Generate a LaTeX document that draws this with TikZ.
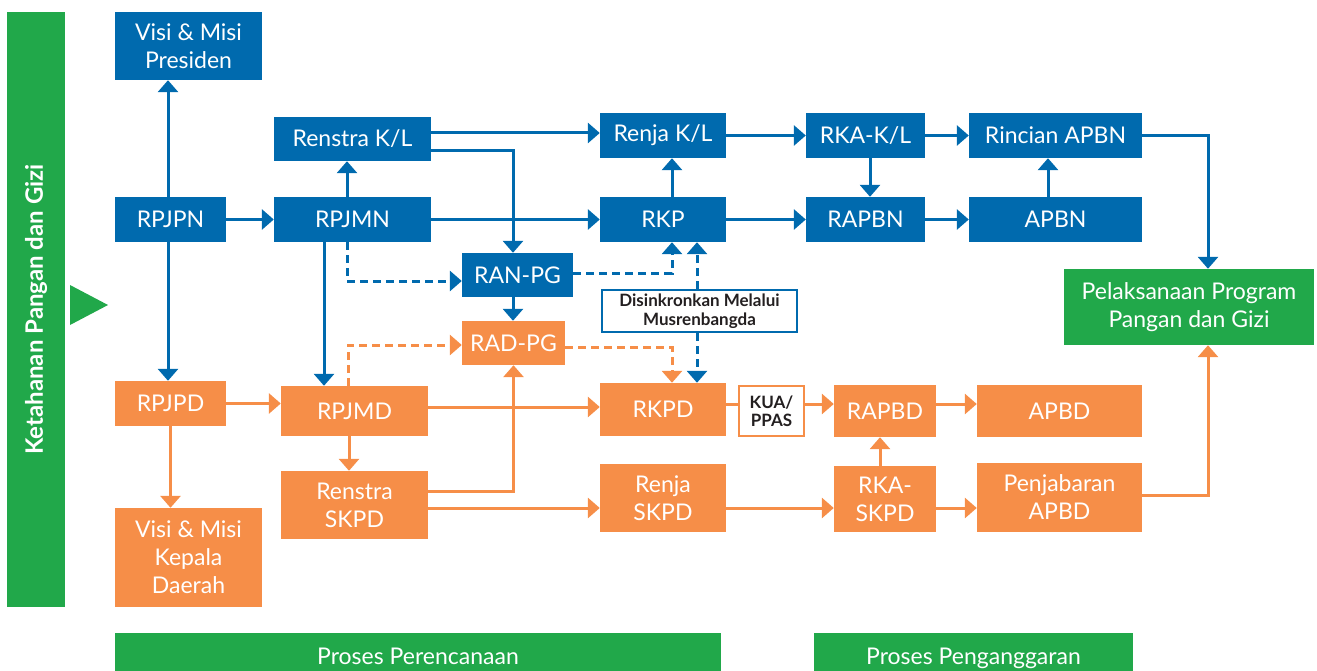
\documentclass[tikz,border=0pt]{standalone}
\usepackage{fontspec}
\setmainfont{Lato}
\usetikzlibrary{arrows.meta}
\definecolor{cblue}{HTML}{006AAE}
\definecolor{corange}{HTML}{F68E48}
\definecolor{cgreen}{HTML}{21A84A}
\definecolor{ctext}{HTML}{231F20}
\begin{document}
\begin{tikzpicture}[x=1pt,y=-1pt,
  box/.style={inner sep=0pt, align=center, text=white, font=\fontsize{23}{28}\selectfont},
  bbox/.style={box, fill=cblue},
  obox/.style={box, fill=corange},
  gbox/.style={box, fill=cgreen},
  wbox/.style={inner sep=0pt, align=center, fill=white, text=ctext, line width=2pt, font=\bfseries\fontsize{17}{19}\selectfont},
  tip/.style={-{Triangle[width=20pt,length=12pt]}},
  barr/.style={tip, draw=cblue, line width=3pt},
  bdash/.style={barr, dash pattern=on 8pt off 5pt},
  oline/.style={draw=corange, line width=3pt},
  oarr/.style={tip, oline},
  odash/.style={oarr, dash pattern=on 8pt off 5pt},
]
\useasboundingbox (0,0) rectangle (1317,671);

% side bar and marker
\node[gbox, rotate=90, minimum width=595pt, minimum height=58pt, font=\bfseries\fontsize{24}{28}\selectfont] (side) at (36,309.5) {Ketahanan Pangan dan Gizi};
\fill[cgreen] (70,285) -- (108,305) -- (70,325) -- cycle;

% blue nodes
\node[bbox, minimum width=147pt, minimum height=68pt] (vp) at (188.5,46) {Visi \& Misi\\Presiden};
\node[bbox, minimum width=111pt, minimum height=45pt] (rpjpn) at (170.5,219.5) {RPJPN};
\node[bbox, minimum width=157pt, minimum height=44pt] (renkl) at (352.5,139) {Renstra K/L};
\node[bbox, minimum width=157pt, minimum height=45pt] (rpjmn) at (352.5,219.5) {RPJMN};
\node[bbox, minimum width=126pt, minimum height=45pt] (renjakl) at (663,135.5) {Renja K/L};
\node[bbox, minimum width=126pt, minimum height=45pt] (rkp) at (663,219.5) {RKP};
\node[bbox, minimum width=111pt, minimum height=44pt] (ranpg) at (517.5,275) {RAN-PG};
\node[bbox, minimum width=119pt, minimum height=45pt] (rkakl) at (865.5,135.5) {RKA-K/L};
\node[bbox, minimum width=173pt, minimum height=45pt] (rincian) at (1055.5,135.5) {Rincian APBN};
\node[bbox, minimum width=119pt, minimum height=45pt] (rapbn) at (865.5,219.5) {RAPBN};
\node[bbox, minimum width=173pt, minimum height=45pt] (apbn) at (1055.5,219.5) {APBN};

% green node
\node[gbox, minimum width=250pt, minimum height=76pt] (pel) at (1189,307) {Pelaksanaan Program\\Pangan dan Gizi};

% orange nodes
\node[obox, minimum width=103pt, minimum height=44pt] (radpg) at (513.5,343) {RAD-PG};
\node[obox, minimum width=111pt, minimum height=45pt] (rpjpd) at (170.5,403.5) {RPJPD};
\node[obox, minimum width=147pt, minimum height=50pt] (rpjmd) at (354.5,411) {RPJMD};
\node[obox, minimum width=147pt, minimum height=68pt] (renskpd) at (354.5,505) {Renstra\\SKPD};
\node[obox, minimum width=147pt, minimum height=99pt] (vkd) at (188.5,557.5) {Visi \& Misi\\Kepala\\Daerah};
\node[obox, minimum width=126pt, minimum height=53pt] (rkpd) at (663,409.5) {RKPD};
\node[obox, minimum width=102pt, minimum height=52pt] (rapbd) at (885,411) {RAPBD};
\node[obox, minimum width=165pt, minimum height=52pt] (apbd) at (1059.5,411) {APBD};
\node[obox, minimum width=126pt, minimum height=68pt] (renjaskpd) at (663,498) {Renja\\SKPD};
\node[obox, minimum width=102pt, minimum height=66pt] (rkaskpd) at (885,499) {RKA-\\SKPD};
\node[obox, minimum width=165pt, minimum height=69pt] (penj) at (1059.5,497.5) {Penjabaran\\APBD};

% white boxes
\node[wbox, draw=cblue, minimum width=195pt, minimum height=42pt] (sync) at (699.5,311) {Disinkronkan Melalui\\Musrenbangda};
\node[wbox, draw=corange, minimum width=65pt, minimum height=50pt, font=\bfseries\fontsize{17}{18}\selectfont] (kua) at (771.5,411) {KUA/\\PPAS};

% bottom bars
\node[gbox, minimum width=606pt, minimum height=38pt, text height=24pt, text depth=0pt] (pp) at (418,652) {Proses Perencanaan};
\node[gbox, minimum width=319pt, minimum height=38pt, text height=24pt, text depth=0pt] (pg) at (973.5,652) {Proses Penganggaran};

% blue connectors
\draw[barr] ([xshift=-2.5pt]rpjpn.north) -- ([xshift=-2.5pt]rpjpn.north |- vp.south);
\draw[barr] (rpjpn.east) -- (rpjpn.east -| rpjmn.west);
\draw[barr] ([xshift=-5.5pt]rpjmn.north) -- ([xshift=-5.5pt]rpjmn.north |- renkl.south);
\draw[barr] ([xshift=-2.5pt]rpjpn.south) -- ([xshift=-2.5pt]rpjpn.south |- rpjpd.north);
\draw[barr] ([xshift=-28.5pt]rpjmn.south) -- ([xshift=-28.5pt]rpjmn.south |- rpjmd.north);
\draw[bdash] ([xshift=-5.5pt]rpjmn.south) |- ([yshift=-6pt]ranpg.west);
\draw[barr] ([yshift=6pt]renkl.east) -- ([yshift=6pt]renkl.east -| renjakl.west);
\draw[barr] ([yshift=-12pt]renkl.east) -| ([xshift=-4.5pt]ranpg.north);
\draw[barr] (rpjmn.east) -- (rpjmn.east -| rkp.west);
\draw[barr] ([xshift=9pt]rkp.north) -- ([xshift=9pt]rkp.north |- renjakl.south);
\draw[bdash] ([yshift=2pt]ranpg.east) -| ([xshift=9pt]rkp.south);
\draw[bdash] ([xshift=-2.5pt]sync.north) -- ([xshift=-2.5pt]sync.north |- rkp.south);
\draw[bdash] ([xshift=-2.5pt]sync.south) -- ([xshift=-2.5pt]sync.south |- rkpd.north);
\draw[barr] ([xshift=-4.5pt]ranpg.south) -- ([xshift=-4.5pt]ranpg.south |- radpg.north);
\draw[barr] (renjakl.east) -- (renjakl.east -| rkakl.west);
\draw[barr] (rkp.east) -- (rkp.east -| rapbn.west);
\draw[barr] ([xshift=4.5pt]rkakl.south) -- ([xshift=4.5pt]rkakl.south |- rapbn.north);
\draw[barr] (rkakl.east) -- (rkakl.east -| rincian.west);
\draw[barr] (rapbn.east) -- (rapbn.east -| apbn.west);
\draw[barr] ([xshift=-7.5pt]apbn.north) -- ([xshift=-7.5pt]apbn.north |- rincian.south);
\draw[barr] (rincian.east) -| ([xshift=19pt]pel.north);

% orange connectors
\draw[oarr] (rpjpd.east) -- (rpjpd.east -| rpjmd.west);
\draw[oarr] (rpjpd.south) -- (rpjpd.south |- vkd.north);
\draw[oarr] ([xshift=-5.5pt]rpjmd.south) -- ([xshift=-5.5pt]rpjmd.south |- renskpd.north);
\draw[odash] ([xshift=-6.5pt]rpjmd.north) |- ([yshift=-2pt]radpg.west);
\draw[odash] ([yshift=-4pt]radpg.east) -| ([xshift=9pt]rkpd.north);
\draw[oarr] ([yshift=4pt]rpjmd.east) -- ([yshift=4pt]rpjmd.east -| rkpd.west);
\draw[oarr] ([yshift=14pt]renskpd.east) -| (radpg.south);
\draw[oarr] ([yshift=-3pt]renskpd.east) -- ([yshift=-3pt]renskpd.east -| renjaskpd.west);
\draw[oline] ([yshift=5.5pt]rkpd.east) -- ([yshift=5.5pt]rkpd.east -| kua.west);
\draw[oarr] ([yshift=7pt]kua.east) -- ([yshift=7pt]kua.east -| rapbd.west);
\draw[oarr] ([yshift=7pt]rapbd.east) -- ([yshift=7pt]rapbd.east -| apbd.west);
\draw[oarr] ([yshift=-10pt]renjaskpd.east) -- ([yshift=-10pt]renjaskpd.east -| rkaskpd.west);
\draw[oarr] ([xshift=-5pt]rkaskpd.north) -- ([xshift=-5pt]rkaskpd.north |- rapbd.south);
\draw[oarr] ([yshift=-9pt]rkaskpd.east) -- ([yshift=-9pt]rkaskpd.east -| penj.west);
\draw[oarr] ([yshift=2.5pt]penj.east) -| ([xshift=19pt]pel.south);
\end{tikzpicture}
\end{document}
